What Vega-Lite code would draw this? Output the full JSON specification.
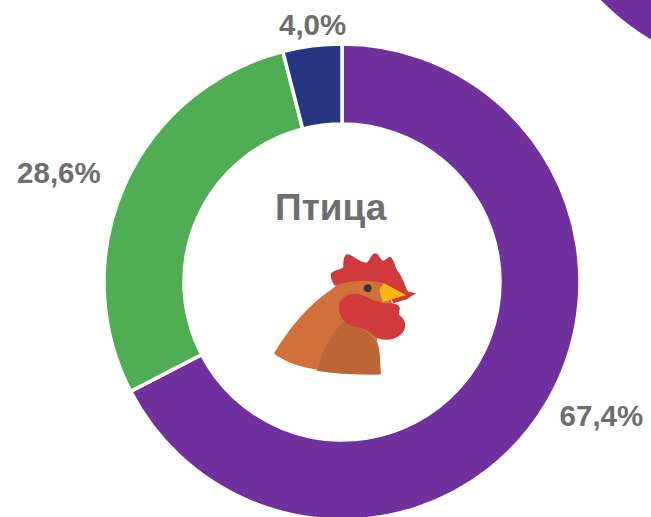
{
"$schema":"https://vega.github.io/schema/vega-lite/v6.json",
"width":474,"height":470,
"autosize":{"type":"none"},
"padding":{"left":105,"top":47,"right":72,"bottom":0},
"background":"white",
"view":{"stroke":null},
"config":{"style":{"cell":{"stroke":null}}},
"datasets":{
"shares":[{"name":"A","order":1,"value":67.4},{"name":"B","order":2,"value":28.6},{"name":"C","order":3,"value":4.0}],
"parts":[{"part":"body"},{"part":"shade"},{"part":"comb"},{"part":"wattle"},{"part":"beak"},{"part":"eye"}],
"neighbour":[{"name":"A","value":100}]
},
"layer":[
{"data":{"name":"neighbour"},
 "mark":{"type":"arc","x":666,"y":-212,"outerRadius":237,"innerRadius":159,"color":"#70309E"},
 "encoding":{"theta":{"field":"value","type":"quantitative","stack":true,"scale":{"domain":[0,100]}}}},
{"data":{"name":"shares"},
 "mark":{"type":"arc","outerRadius":238,"innerRadius":158,"stroke":"white","strokeWidth":3.5},
 "encoding":{
  "theta":{"field":"value","type":"quantitative","stack":true},
  "order":{"field":"order","type":"ordinal"},
  "color":{"field":"name","type":"nominal","legend":null,"scale":{"domain":["A","B","C"],"range":["#70309E","#4FAE54","#273583"]}}}},
{"data":{"values":[{"label":"67,4%"}]},
 "mark":{"type":"text","theta":2.051,"radius":292.5,"fontSize":29.5,"font":"Liberation Sans","fontWeight":"bold","align":"center","baseline":"middle","color":"#6E6E6E"},
 "encoding":{"text":{"field":"label","type":"nominal"}}},
{"data":{"values":[{"label":"28,6%"}]},
 "mark":{"type":"text","theta":5.077,"radius":303,"fontSize":29.5,"font":"Liberation Sans","fontWeight":"bold","align":"center","baseline":"middle","color":"#6E6E6E"},
 "encoding":{"text":{"field":"label","type":"nominal"}}},
{"data":{"values":[{"label":"4,0%"}]},
 "mark":{"type":"text","theta":6.169,"radius":258,"fontSize":29.5,"font":"Liberation Sans","fontWeight":"bold","align":"center","baseline":"middle","color":"#6E6E6E"},
 "encoding":{"text":{"field":"label","type":"nominal"}}},
{"data":{"values":[{"label":"Птица"}]},
 "mark":{"type":"text","theta":6.130,"radius":74,"fontSize":37,"font":"Liberation Sans","fontWeight":"bold","align":"center","baseline":"middle","color":"#6E6E6E"},
 "encoding":{"text":{"field":"label","type":"nominal"}}},
{"data":{"name":"parts"},
 "mark":{"type":"point","filled":true,"opacity":1,"size":4,"strokeWidth":0},
 "encoding":{
  "color":{"field":"part","type":"nominal","sort":null,"legend":null,"scale":{"domain":["body","shade","comb","wattle","beak","eye"],"range":["#D2703C","#BC6635","#D03A3C","#D03A3C","#FBB616","#333333"]}},
  "shape":{"field":"part","type":"nominal","sort":null,"legend":null,"scale":{"domain":["body","shade","comb","wattle","beak","eye"],"range":[
   "M-68 71.3 C-52 44.7 -32 21.3 -10.3 7.3 C0 -1 5 -8 20 -10 L43 -8 L50 22 L45 40 L34.7 58 C38.7 68 38 81.3 38.7 92.3 C8 93 -25.3 89.7 -48.7 82 C-57 78.7 -63.7 75.3 -68 71.3 Z",
   "M1.3 39.7 C-12 53 -20.3 71.3 -25.3 88.7 C-5.3 92 18 93 38.7 92.3 C38 81.3 38.7 68 33 58 C24.7 48 13 41.3 1.3 39.7 Z",
   "M-7 3.7 C-10.3 -0.3 -12 -5.3 -11 -8.7 C-7 -12.7 -0.3 -12 1.3 -15.3 C1.3 -22 2 -27 5.3 -27.7 C11.3 -27 18 -19.3 24.7 -19.3 C28 -22 29.7 -28.7 33 -28.7 C37.3 -28.7 38 -21.3 42 -21.3 C44.7 -23.7 47.3 -26 49 -24.7 C53 -20.3 53 -13.7 56.3 -10.3 C61.3 -3.7 63 4.7 66.3 9.7 L74 11.3 L64.7 17.3 L51.3 21.3 L43 1.3 C24.7 -2.7 8 -2 -7 3.7 Z",
   "M-3 26.3 C-3.7 17 5.3 10.5 16.3 12.3 C26.3 14 33 21.3 44.7 21.3 C51.3 21.3 56.3 21.3 58 26.3 C57.3 29.7 56.3 30.7 57.3 33 C65 38 65 48 58.3 53 C51.3 59 39.7 59.5 31.3 53.5 C26.3 48.5 23 47 18 46 C6.3 44 -2 39 -3 26.3 Z",
   "M42 1.3 L64 13 L40.7 20.3 L37.3 8 Z",
   "M21.7 6.3 A4 4 0 1 0 29.7 6.3 A4 4 0 1 0 21.7 6.3 Z"
  ]}}}}
],
"resolve":{"scale":{"theta":"independent","color":"independent"}}
}
